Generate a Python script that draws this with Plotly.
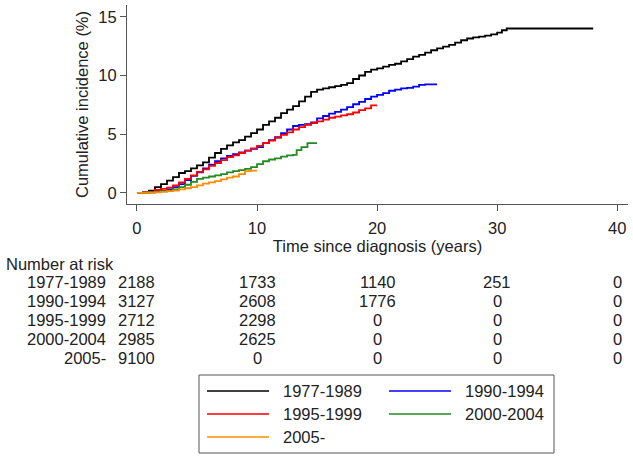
import plotly.graph_objects as go

# ---------------- data ----------------
groups = ["1977-1989", "1990-1994", "1995-1999", "2000-2004", "2005-"]
colors = ["#000000", "#0000FF", "#FF0000", "#228B22", "#FF8C00"]

t_1977 = [0, 0.5, 1, 1.5, 2, 2.5, 3, 3.5, 4, 4.5, 5, 5.5, 6, 6.5, 7, 7.5, 8, 8.5, 9, 9.5,
          10, 10.5, 11, 11.5, 12, 12.5, 13, 13.5, 14, 14.5, 15, 15.5, 16, 16.5, 17, 17.5,
          18, 18.5, 19, 19.5, 20, 20.5, 21, 21.5, 22, 22.5, 23, 23.5, 24, 24.5, 25, 25.5,
          26, 26.5, 27, 27.5, 28, 28.5, 29, 29.5, 30, 30.4, 30.8, 38]
ci_1977 = [0, 0.05, 0.2, 0.5, 0.75, 1.05, 1.35, 1.7, 1.85, 2.1, 2.35, 2.6, 3.0, 3.4, 3.75,
           4.05, 4.3, 4.5, 4.8, 5.1, 5.4, 5.8, 6.1, 6.4, 6.8, 7.1, 7.4, 7.8, 8.2, 8.6, 8.8,
           8.9, 9.0, 9.1, 9.2, 9.35, 9.7, 10.0, 10.3, 10.5, 10.6, 10.75, 10.9, 11.0, 11.2,
           11.4, 11.6, 11.75, 11.95, 12.15, 12.3, 12.45, 12.6, 12.8, 13.0, 13.15, 13.25,
           13.3, 13.4, 13.5, 13.65, 13.85, 14.0, 14.0]

t_1990 = [0, 0.5, 1, 1.5, 2, 2.5, 3, 3.5, 4, 4.5, 5, 5.5, 6, 6.5, 7, 7.5, 8, 8.5, 9, 9.5,
          10, 10.5, 11, 11.5, 12, 12.5, 13, 13.5, 14, 14.5, 15, 15.5, 16, 16.5, 17, 17.5,
          18, 18.5, 19, 19.5, 20, 20.5, 21, 21.5, 22, 22.5, 23, 23.5, 24, 25]
ci_1990 = [0, 0, 0.05, 0.1, 0.15, 0.3, 0.5, 0.75, 1.1, 1.45, 1.75, 2.1, 2.4, 2.7, 2.95,
           3.15, 3.3, 3.45, 3.6, 3.75, 3.9, 4.25, 4.5, 4.75, 5.1, 5.4, 5.7, 5.8, 5.85, 6.0,
           6.35, 6.55, 6.75, 6.9, 7.1, 7.3, 7.55, 7.75, 8.0, 8.2, 8.35, 8.5, 8.7, 8.8, 8.9,
           8.95, 9.05, 9.2, 9.25, 9.25]

t_1995 = [0, 0.5, 1, 1.5, 2, 2.5, 3, 3.5, 4, 4.5, 5, 5.5, 6, 6.5, 7, 7.5, 8, 8.5, 9, 9.5,
          10, 10.5, 11, 11.5, 12, 12.5, 13, 13.5, 14, 14.5, 15, 15.5, 16, 16.5, 17, 17.5,
          18, 18.5, 19, 19.5, 20]
ci_1995 = [0, 0.05, 0.1, 0.25, 0.35, 0.45, 0.65, 0.9, 1.2, 1.5, 1.8, 2.0, 2.3, 2.55, 2.8,
           3.05, 3.2, 3.4, 3.6, 3.8, 4.0, 4.25, 4.45, 4.7, 4.95, 5.15, 5.4, 5.6, 5.8, 5.95,
           6.1, 6.25, 6.4, 6.5, 6.6, 6.7, 6.85, 7.05, 7.2, 7.45, 7.45]

t_2000 = [0, 0.5, 1, 1.5, 2, 2.5, 3, 3.5, 4, 4.5, 5, 5.5, 6, 6.5, 7, 7.5, 8, 8.5, 9, 9.5,
          10, 10.5, 11, 11.5, 12, 12.5, 13, 13.3, 13.7, 14.2, 15]
ci_2000 = [0, 0, 0.05, 0.1, 0.15, 0.2, 0.3, 0.5, 0.7, 0.95, 1.2, 1.3, 1.4, 1.5, 1.6, 1.75,
           1.85, 1.95, 2.05, 2.2, 2.45, 2.7, 2.85, 2.95, 3.1, 3.2, 3.25, 3.65, 3.9, 4.25, 4.25]

t_2005 = [0, 0.5, 1, 1.5, 2, 2.5, 3, 3.5, 4, 4.5, 5, 5.5, 6, 6.5, 7, 7.5, 8, 8.5, 9, 9.5, 10]
ci_2005 = [0, 0, 0.02, 0.05, 0.1, 0.15, 0.2, 0.3, 0.4, 0.5, 0.65, 0.8, 0.9, 1.0, 1.15, 1.3,
           1.4, 1.6, 1.85, 1.9, 1.9]

times = [t_1977, t_1990, t_1995, t_2000, t_2005]
incid = [ci_1977, ci_1990, ci_1995, ci_2000, ci_2005]

risk_times = [0, 10, 20, 30, 40]
risk_1977 = [2188, 1733, 1140, 251, 0]
risk_1990 = [3127, 2608, 1776, 0, 0]
risk_1995 = [2712, 2298, 0, 0, 0]
risk_2000 = [2985, 2625, 0, 0, 0]
risk_2005 = [9100, 0, 0, 0, 0]
risk_rows = [risk_1977, risk_1990, risk_1995, risk_2000, risk_2005]

x_ticks = [0, 10, 20, 30, 40]
y_ticks = [0, 5, 10, 15]

# ---------------- layout geometry (pixels) ----------------
W, H = 633, 457
L, R, T, B = 127, 5, 5, 253
PW, PH = W - L - R, H - T - B
FONT = "Liberation Sans, Arial, sans-serif"
TXT = "#222222"
FS = 16.5


def px_x(px):
    return (px - L) / PW


def px_y(py):
    return (H - B - py) / PH


fig = go.Figure()
for g, c, tx, cy in zip(groups, colors, times, incid):
    fig.add_trace(go.Scatter(x=tx, y=cy, mode="lines", name=g,
                             line=dict(color=c, width=1.8, shape="hv"),
                             showlegend=False))

annotations = []
# number at risk table
annotations.append(dict(text="Number at risk", xref="paper", yref="paper",
                        x=px_x(4), y=px_y(264), xanchor="left", yanchor="middle",
                        showarrow=False, font=dict(size=FS, color=TXT, family=FONT)))
row_y = [282, 301, 320, 339, 358]
for g, vals, ry in zip(groups, risk_rows, row_y):
    annotations.append(dict(text=g, xref="paper", yref="paper", x=px_x(108), y=px_y(ry),
                            xanchor="right", yanchor="middle", showarrow=False,
                            font=dict(size=FS, color=TXT, family=FONT)))
    for tt, v in zip(risk_times, vals):
        annotations.append(dict(text=str(v), xref="x", yref="paper", x=tt, y=px_y(ry),
                                xanchor="center", yanchor="middle", showarrow=False,
                                font=dict(size=FS, color=TXT, family=FONT)))

# legend (manual, two columns)
shapes = [dict(type="rect", xref="paper", yref="paper", x0=px_x(199), x1=px_x(554),
               y0=px_y(453), y1=px_y(375), line=dict(color="#555555", width=1))]
leg_pos = [(207, 391), (389, 391), (207, 414), (389, 414), (207, 437)]
for g, c, (lx, ly) in zip(groups, colors, leg_pos):
    shapes.append(dict(type="line", xref="paper", yref="paper", x0=px_x(lx), x1=px_x(lx + 62),
                       y0=px_y(ly), y1=px_y(ly), line=dict(color=c, width=1.5)))
    annotations.append(dict(text=g, xref="paper", yref="paper", x=px_x(lx + 74), y=px_y(ly),
                            xanchor="left", yanchor="middle", showarrow=False,
                            font=dict(size=FS, color=TXT, family=FONT)))

fig.update_layout(
    width=W, height=H,
    margin=dict(l=L, r=R, t=T, b=B, autoexpand=False),
    paper_bgcolor="white", plot_bgcolor="white",
    font=dict(family=FONT, size=FS, color=TXT),
    annotations=annotations, shapes=shapes,
    xaxis=dict(range=[-0.83, 40.9], tickvals=x_ticks, showgrid=False, zeroline=False,
               showline=True, linecolor="#555555", linewidth=1, ticks="outside",
               ticklen=6, tickcolor="#555555", tickfont=dict(size=FS, color=TXT),
               ticklabelstandoff=3,
               title=dict(text="Time since diagnosis (years)", standoff=0,
                          font=dict(size=FS, color=TXT))),
    yaxis=dict(range=[-0.94, 16.0], tickvals=y_ticks, showgrid=False, zeroline=False,
               showline=True, linecolor="#555555", linewidth=1, ticks="outside",
               ticklen=6, tickcolor="#555555", tickfont=dict(size=FS, color=TXT),
               title=dict(text="Cumulative incidence (%)", standoff=5,
                          font=dict(size=FS, color=TXT))),
)

fig.write_html("out.html", config={"displayModeBar": False},
               post_script="document.body.style.margin='0px';document.body.style.padding='0px';")
